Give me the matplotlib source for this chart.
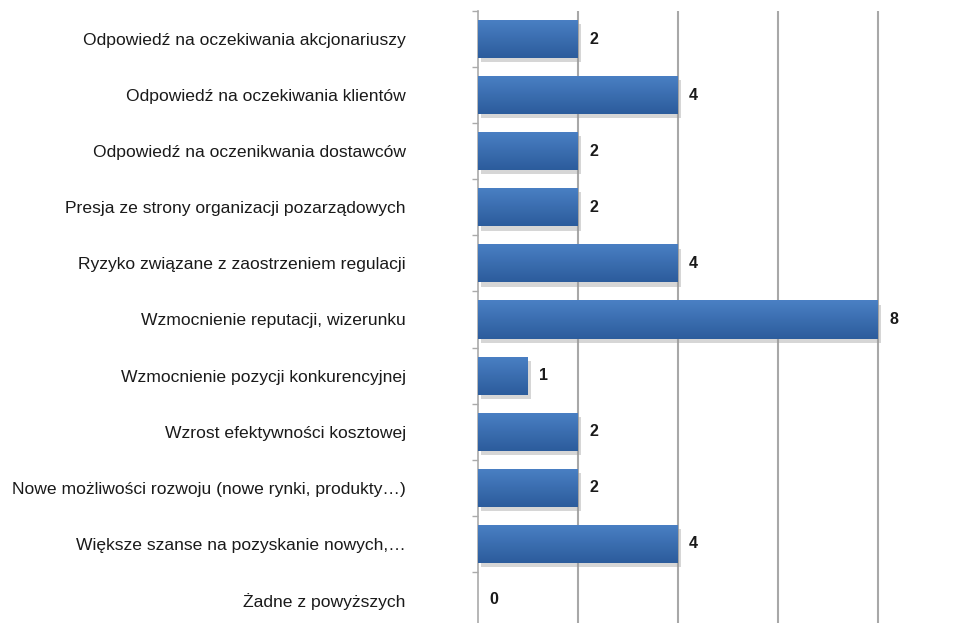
import numpy as np
import matplotlib.pyplot as plt
import matplotlib.patheffects as pe

# Survey answers, top to bottom as in the picture
categories = [
    "Odpowiedź na oczekiwania akcjonariuszy",
    "Odpowiedź na oczekiwania klientów",
    "Odpowiedź na oczenikwania dostawców",
    "Presja ze strony organizacji pozarządowych",
    "Ryzyko związane z zaostrzeniem regulacji",
    "Wzmocnienie reputacji, wizerunku",
    "Wzmocnienie pozycji konkurencyjnej",
    "Wzrost efektywności kosztowej",
    "Nowe możliwości rozwoju (nowe rynki, produkty…)",
    "Większe szanse na pozyskanie nowych,…",
    "Żadne z powyższych",
]
counts = [2, 4, 2, 2, 4, 8, 1, 2, 2, 4, 0]
grid_values = [2, 4, 6, 8]

plt.rcParams['font.family'] = ['Liberation Sans', 'DejaVu Sans']

W, H = 968, 623
fig = plt.figure(figsize=(W / 100, H / 100), dpi=100)
ax = fig.add_axes([478 / W, 1 - 628 / H, 1 - 478 / W, 617 / H])

n = len(categories)
y = np.arange(n)

bars = ax.barh(y, counts, height=0.68, color='#3a6db0', zorder=3,
               path_effects=[pe.SimplePatchShadow(offset=(2, -3), shadow_rgbFace='#999999', alpha=0.4),
                             pe.Normal()])

# vertical gradient on each bar (lighter top, darker bottom)
grad = np.linspace(0, 1, 64).reshape(-1, 1)
cmap = plt.matplotlib.colors.LinearSegmentedColormap.from_list('b', ['#4a80c4', '#2c5c9c'])
for b in bars:
    if b.get_width() <= 0:
        continue
    x0, y0 = b.get_x(), b.get_y()
    im = ax.imshow(grad, cmap=cmap, aspect='auto', zorder=4,
                   extent=[x0, x0 + b.get_width(), y0 + b.get_height(), y0])
    im.set_clip_path(b)

for yi, v in zip(y, counts):
    ax.text(v + 0.22, yi, str(v), va='center', ha='left', fontsize=11.5,
            fontweight='bold', color='#1a1a1a', zorder=5)

ax.set_xlim(0, 9.8)
ax.set_ylim(n - 0.5, -0.5)

for gv in grid_values:
    ax.axvline(gv, color='#a8a8a8', lw=1.5, zorder=1)

ax.set_xticks([])
ax.set_yticks(y)
ax.set_yticklabels(categories, fontsize=12.6, color='#1a1a1a')
ax.tick_params(axis='y', which='major', length=0, pad=52)
ax.set_yticks(np.arange(n + 1) - 0.5, minor=True)
ax.tick_params(axis='y', which='minor', length=4, color='#aaaaaa', width=1)

for s in ['top', 'right', 'bottom']:
    ax.spines[s].set_visible(False)
ax.spines['left'].set_color('#aaaaaa')
ax.spines['left'].set_linewidth(1.2)

fig.savefig('out.png', dpi=100)
